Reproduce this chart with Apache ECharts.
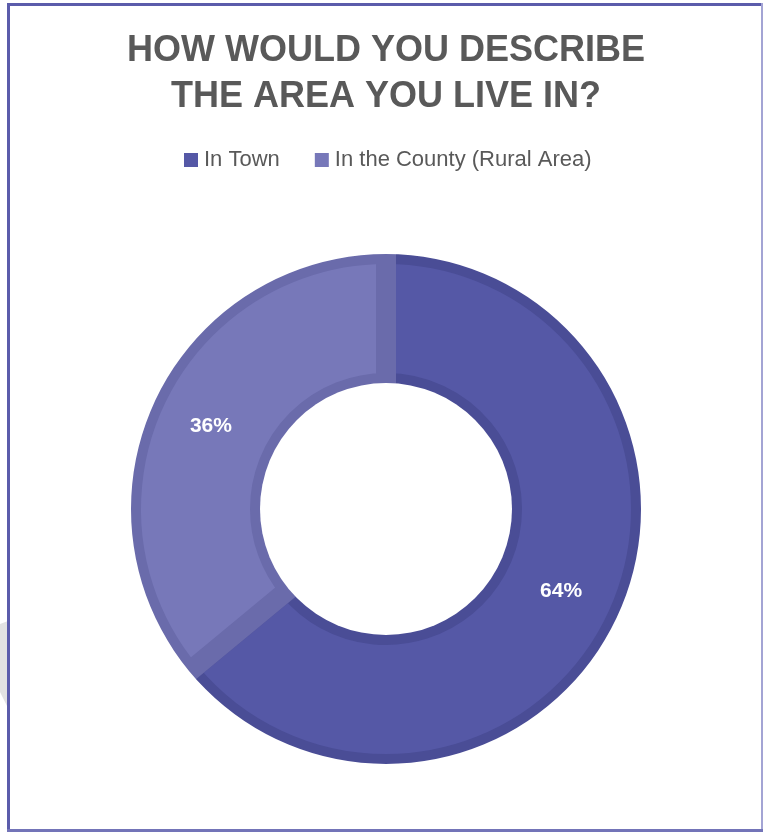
<!DOCTYPE html>
<html>
<head>
<meta charset="utf-8">
<style>
  html, body { margin: 0; padding: 0; background: #ffffff; }
  #chart { width: 763px; height: 833px; }
</style>
<script src="https://cdn.jsdelivr.net/npm/echarts@6/dist/echarts.min.js"></script>
</head>
<body>
<div id="chart"></div>
<script>
// Survey answers: where respondents live
const categories = ['In Town', 'In the County (Rural Area)'];
const percentages = [64, 36];
const fillColors = ['#5558a6', '#7778b9'];
const edgeColors = ['#4a4d96', '#6a6bab'];

const titleLines = ['HOW WOULD YOU DESCRIBE', 'THE AREA YOU LIVE IN?'];

const CX = 386, CY = 509, R_IN = 126, R_OUT = 255, EDGE = 10;

const chart = echarts.init(document.getElementById('chart'), null, { renderer: 'canvas' });

const sliceData = categories.map((name, i) => ({
  name,
  value: percentages[i],
  itemStyle: {
    color: fillColors[i],
    borderColor: edgeColors[i],
    borderWidth: EDGE * 2
  }
}));

chart.setOption({
  backgroundColor: '#ffffff',
  animation: false,
  title: {
    text: titleLines.join('\n'),
    left: 381,
    top: 23,
    textAlign: 'center',
    textStyle: {
      fontFamily: 'Liberation Sans, Arial, sans-serif',
      fontSize: 36,
      fontWeight: 'bold',
      color: '#595959',
      lineHeight: 46
    }
  },
  legend: {
    data: categories,
    left: 179,
    top: 144,
    icon: 'rect',
    itemWidth: 14,
    itemHeight: 14,
    itemGap: 35,
    selectedMode: false,
    itemStyle: { borderWidth: 0 },
    textStyle: {
      fontFamily: 'Liberation Sans, Arial, sans-serif',
      fontSize: 22,
      color: '#595959',
      padding: [0, 0, 0, 1]
    }
  },
  graphic: [
    // soft grey shape peeking in at the left edge
    { type: 'polygon', silent: true, z: 0,
      shape: { points: [[0, 624], [8, 621], [8, 708], [0, 692]] },
      style: { fill: '#e2e2e2' } },
    // frame
    { type: 'rect', silent: true, shape: { x: 7, y: 3, width: 756, height: 3 }, style: { fill: '#5b5cab' } },
    { type: 'rect', silent: true, shape: { x: 7, y: 3, width: 3, height: 829 }, style: { fill: '#5b5cab' } },
    { type: 'rect', silent: true, shape: { x: 761, y: 3, width: 2, height: 829 }, style: { fill: '#a3a4d4' } },
    { type: 'rect', silent: true, shape: { x: 7, y: 829, width: 756, height: 3 }, style: { fill: '#7374b8' } }
  ],
  series: [
    {
      type: 'pie',
      name: 'area',
      center: [CX, CY],
      radius: [R_IN, R_OUT],
      startAngle: 90,
      clockwise: true,
      z: 2,
      emphasis: { disabled: true },
      label: {
        show: true,
        position: 'inside',
        formatter: p => p.value + '%',
        color: '#ffffff',
        fontFamily: 'Liberation Sans, Arial, sans-serif',
        fontWeight: 'bold',
        fontSize: 21
      },
      labelLine: { show: false },
      data: sliceData
    },
    {
      // trims the edge stroke beyond the outer rim
      type: 'pie',
      name: 'outerTrim',
      center: [CX, CY],
      radius: [R_OUT, R_OUT + EDGE + 6],
      silent: true,
      z: 3,
      label: { show: false },
      labelLine: { show: false },
      emphasis: { disabled: true },
      data: [{ name: 'outerTrim', value: 1, itemStyle: { color: '#ffffff' } }]
    },
    {
      // trims the edge stroke inside the hole
      type: 'pie',
      name: 'innerTrim',
      center: [CX, CY],
      radius: [0, R_IN],
      silent: true,
      z: 3,
      label: { show: false },
      labelLine: { show: false },
      emphasis: { disabled: true },
      data: [{ name: 'innerTrim', value: 1, itemStyle: { color: '#ffffff' } }]
    }
  ]
});
</script>
</body>
</html>
